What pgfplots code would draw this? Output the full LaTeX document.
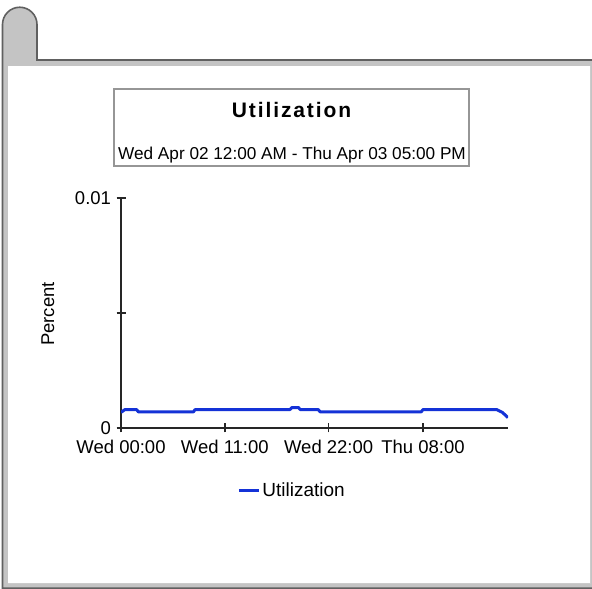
\documentclass[border=0pt]{standalone}
\usepackage{fontspec}
\setmainfont{Liberation Sans}
\usepackage{pgfplots}
\pgfplotsset{compat=1.18}
\definecolor{framegray}{RGB}{196,196,196}
\definecolor{framedark}{RGB}{96,96,96}
\definecolor{boxgray}{RGB}{150,150,150}
\definecolor{utilblue}{RGB}{20,50,215}
\begin{document}
\begin{tikzpicture}
\begin{scope}[x=1bp,y=1bp]
\path[use as bounding box] (0,0) rectangle (592,589);
\fill[white] (0,0) rectangle (592,589);
\filldraw[fill=framegray, draw=framedark, line width=1.6] (2.5,0.8) -- (2.5,564.5) arc[start angle=180,end angle=0,radius=17.25] -- (37,529) -- (593,529) -- (593,0.8) -- cycle;
\fill[white] (8,6) rectangle (590,523);
\draw[line width=1, gray!40] (8,6) -- (590,6) -- (590,523);
\filldraw[fill=white, draw=boxgray, line width=1.6] (114,423) rectangle (469,500);
\node[anchor=base, inner sep=0, font=\fontsize{21bp}{24bp}\selectfont\bfseries\addfontfeature{LetterSpace=9}] at (291.5,471) {Utilization};
\node[anchor=base, inner sep=0, font=\fontsize{17.2bp}{20bp}\selectfont] at (292,429) {Wed Apr 02 12:00 AM - Thu Apr 03 05:00 PM};
\end{scope}
\begin{axis}[
  at={(121bp,161bp)}, anchor=south west,
  scale only axis, width=387bp, height=230bp,
  xmin=0, xmax=41, ymin=0, ymax=0.01,
  axis x line*=bottom, axis y line*=left,
  x axis line style={-}, y axis line style={-},
  axis line style={line width=1.6bp, black!85},
  xtick={0,11,22,32},
  xticklabels={Wed 00:00, Wed 11:00, Wed 22:00, Thu 08:00},
  ytick={0,0.005,0.01},
  yticklabels={0,,0.01},
  scaled y ticks=false,
  tick align=center, major tick length=9bp,
  tick style={line width=1.4bp, black!85},
  ticklabel style={font=\fontsize{18.5bp}{20bp}\selectfont},
  xticklabel style={yshift=-4bp},
  yticklabel style={xshift=-2bp},
  ylabel={Percent},
  ylabel style={at={(axis description cs:-0.189,0.496)}, anchor=center, font=\fontsize{18.5bp}{20bp}\selectfont},
  legend style={draw=none, fill=none, at={(axis description cs:0.442,-0.27)}, anchor=center, font=\fontsize{19bp}{21bp}\selectfont},
  legend image code/.code={\draw[#1] (0bp,0bp) -- (20bp,0bp);},
]
\addplot[color=utilblue, line width=3bp, line join=round, mark=none] coordinates {
(0,0.00068) (0.42,0.0008) (1.66,0.0008) (1.84,0.0007) (7.67,0.0007) (7.85,0.0008)
(17.9,0.0008) (18.1,0.00089) (18.8,0.00089) (19.0,0.0008) (20.9,0.0008) (21.1,0.0007)
(31.8,0.0007) (32.0,0.0008) (39.8,0.0008) (40.4,0.00068) (41,0.00045)
};
\addlegendentry{Utilization}
\end{axis}
\end{tikzpicture}
\end{document}
